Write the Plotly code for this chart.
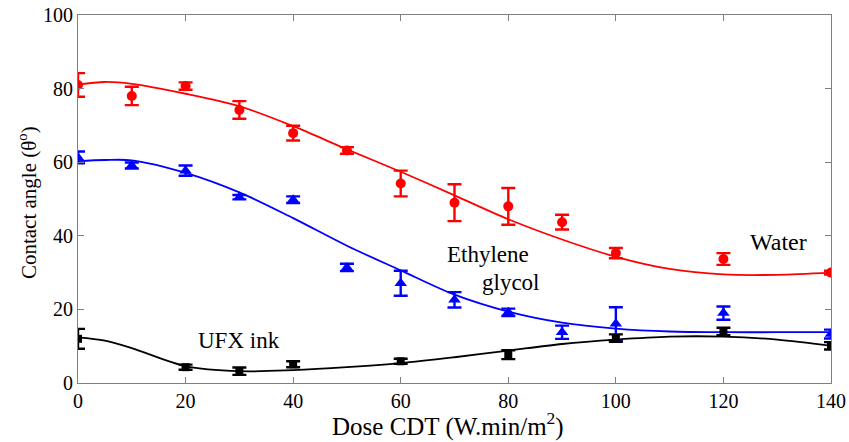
import plotly.graph_objects as go

# Measured points
dose = [0, 10, 20, 30, 40, 50, 60, 70, 80, 90, 100, 120, 140]
water = [81.0, 78.0, 80.7, 74.2, 67.9, 63.2, 54.2, 49.0, 48.0, 43.7, 35.3, 33.7, 30.0]
water_err = [3.2, 2.5, 1.0, 2.4, 2.0, 0.9, 3.5, 5.0, 5.0, 2.0, 1.4, 1.6, 0.5]

dose_eg = [0, 10, 20, 30, 40, 50, 60, 70, 80, 90, 100, 120, 140]
glycol = [61.3, 59.1, 57.7, 50.5, 49.8, 31.4, 27.1, 22.6, 19.2, 13.8, 16.1, 19.0, 13.3]
glycol_err = [1.6, 0.8, 1.4, 0.6, 0.9, 1.0, 3.4, 2.1, 1.0, 1.8, 4.5, 1.8, 1.2]

dose_ufx = [0, 20, 30, 40, 60, 80, 100, 120, 140]
ufx = [12.0, 4.3, 3.2, 5.1, 5.9, 7.7, 12.2, 14.0, 10.1]
ufx_err = [2.7, 0.7, 1.0, 0.8, 0.7, 1.2, 1.0, 1.0, 1.0]

# Fitted curves
fit_x = [0, 5, 10, 20, 30, 40, 50, 60, 70, 80, 90, 100, 110, 120, 130, 140]
water_fit = [81.1, 81.8, 81.3, 78.6, 75.2, 69.8, 63.5, 57.4, 51.0, 44.5, 39.0, 34.3, 31.0, 29.5, 29.4, 30.0]
glycol_fit = [60.3, 60.6, 60.5, 57.1, 51.8, 44.8, 37.3, 30.6, 24.0, 19.4, 16.4, 14.8, 14.0, 13.8, 13.8, 13.8]
ufx_fit = [12.4, 11.5, 9.5, 4.6, 3.2, 3.5, 4.3, 5.4, 7.0, 8.8, 10.6, 11.8, 12.6, 12.6, 11.8, 10.1]

labels = {"Water": (130.2, 38.2), "Ethylene": (76.2, 34.8), "glycol": (80.5, 27.2), "UFX ink": (29.9, 11.6)}
x_title = "Dose CDT (W.min/m<sup>2</sup>)"
y_title = "Contact angle (θ<sup>o</sup>)"

FONT = "Times New Roman, Liberation Serif, DejaVu Serif, serif"

fig = go.Figure()

def add(xf, yf, xp, yp, err, color, symbol, size):
    fig.add_trace(go.Scatter(x=xf, y=yf, mode="lines", line=dict(color=color, width=1.8, shape="spline", smoothing=0.9),
                             hoverinfo="skip", showlegend=False))
    fig.add_trace(go.Scatter(x=xp, y=yp, mode="markers",
                             marker=dict(color=color, symbol=symbol, size=size),
                             error_y=dict(type="data", array=err, visible=True, color=color, thickness=2.4, width=7),
                             showlegend=False))

add(fit_x, water_fit, dose, water, water_err, "#ff0000", "circle", 10)
add(fit_x, glycol_fit, dose_eg, glycol, glycol_err, "#0000ff", "triangle-up", 11)
add(fit_x, ufx_fit, dose_ufx, ufx, ufx_err, "#000000", "square", 8)

label_sizes = {"Water": 24, "Ethylene": 23, "glycol": 23, "UFX ink": 23}
for txt, (xx, yy) in labels.items():
    fig.add_annotation(x=xx, y=yy, text=txt, showarrow=False,
                       font=dict(family=FONT, size=label_sizes[txt], color="black"))

fig.add_annotation(xref="paper", yref="paper", x=0.491, y=0, yanchor="middle", yshift=-41,
                   text=x_title, showarrow=False, font=dict(family=FONT, size=25, color="black"))
fig.add_annotation(xref="paper", yref="paper", x=0, y=0.489, xanchor="center", xshift=-51, textangle=-90,
                   text=y_title, showarrow=False, font=dict(family=FONT, size=21, color="black"))

axis_common = dict(showline=True, linecolor="#808080", linewidth=1.2, mirror="ticks", ticks="inside",
                   ticklen=6, tickcolor="#808080", showgrid=False, zeroline=False, automargin=False,
                   tickfont=dict(family=FONT, size=20, color="black"))

fig.update_xaxes(range=[0, 140], tickvals=[0, 20, 40, 60, 80, 100, 120, 140], **axis_common)
fig.update_yaxes(range=[0, 100], tickvals=[0, 20, 40, 60, 80, 100], **axis_common)

fig.update_layout(width=849, height=442, margin=dict(l=78, r=18, t=15, b=59),
                  plot_bgcolor="white", paper_bgcolor="white", font=dict(family=FONT))

fig.write_html("out.html")
